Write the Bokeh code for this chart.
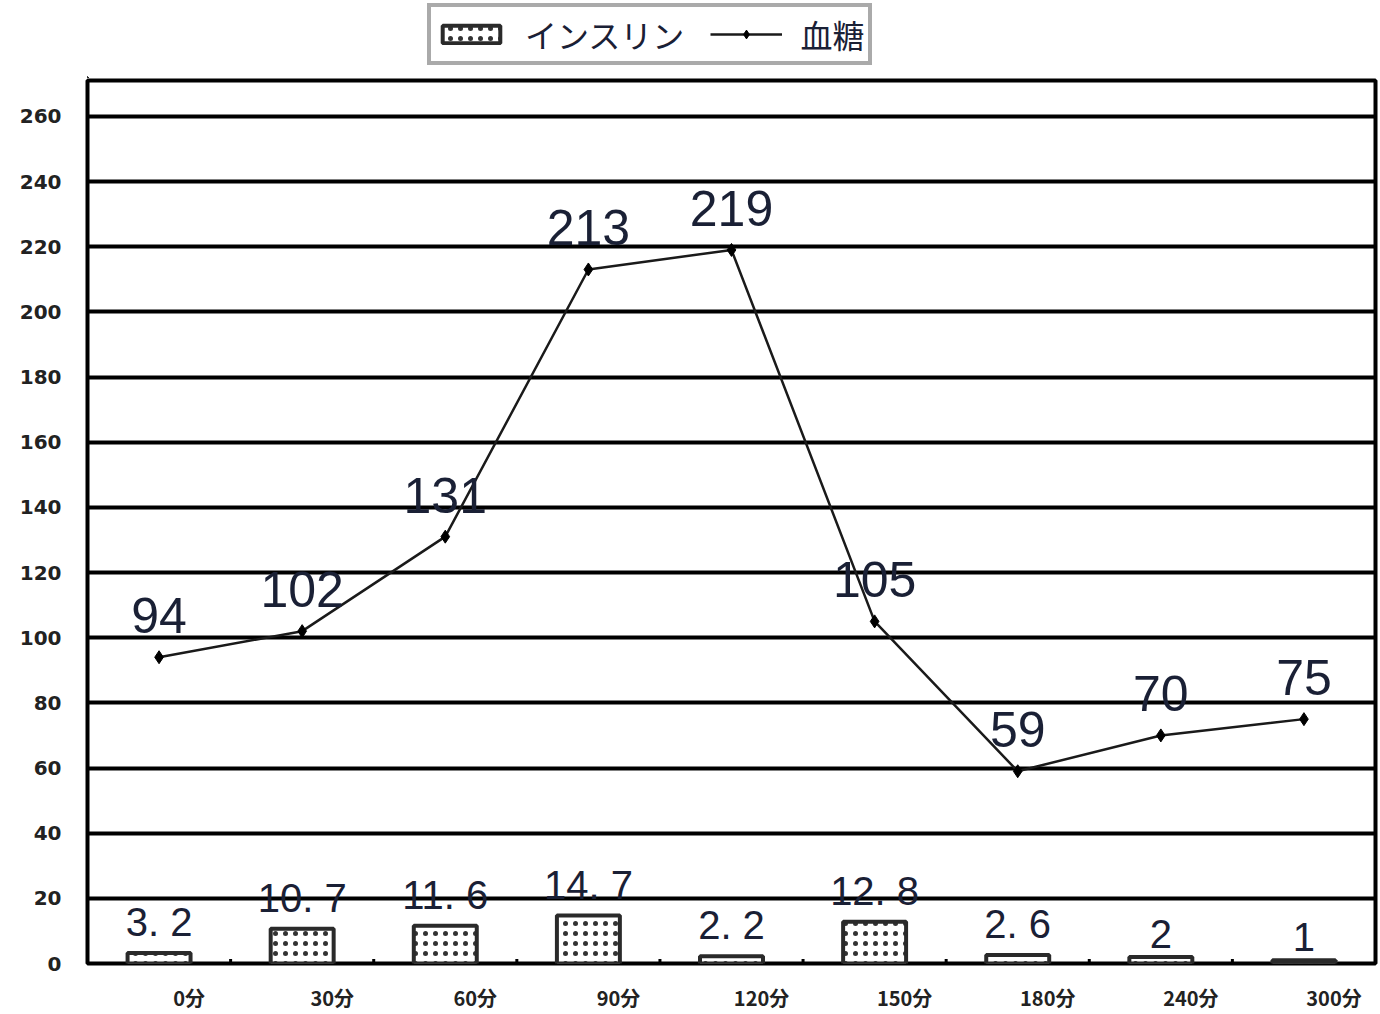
from bokeh.plotting import figure
from bokeh.layouts import column
from bokeh.models import (Range1d, FixedTicker, Legend, LegendItem, ColumnDataSource)
from bokeh.core.properties import value
from bokeh.embed import file_html
from bokeh.resources import INLINE

# --- data -------------------------------------------------------------
time_labels = ["0分", "30分", "60分", "90分", "120分", "150分", "180分", "240分", "300分"]
insulin = [3.2, 10.7, 11.6, 14.7, 2.2, 12.8, 2.6, 2, 1]
glucose = [94, 102, 131, 213, 219, 105, 59, 70, 75]
y_ticks = list(range(0, 261, 20))

n = len(time_labels)
xs = [i + 0.5 for i in range(n)]          # category centres on a numeric axis
bounds = list(range(1, n))                 # category boundaries
label_shift = 0.21                         # time labels sit right of the centre

LABEL_COLOR = "#1a2035"
JP_FONT = "Noto Sans CJK JP"
W = 1380
HEAD_H = 78

BAR_STYLE = dict(fill_color="white", line_color="#2a2a2a", line_width=4,
                 hatch_pattern="dot", hatch_color="#333333", hatch_scale=10,
                 hatch_weight=3.5)
LINE_STYLE = dict(line_color="#1a1a1a", line_width=2.5)
MARK_STYLE = dict(marker="diamond", size=13, fill_color="black", line_color="black")

src = ColumnDataSource(dict(
    x=xs,
    insulin=insulin,
    glucose=glucose,
    ins_text=[f"{v:g}".replace(".", ". ") for v in insulin],
    glu_text=[f"{v:g}" for v in glucose],
))

# --- main chart ---------------------------------------------------------
p = figure(width=W, height=1014 - HEAD_H, output_backend="svg", toolbar_location=None,
           x_range=Range1d(0, n), y_range=Range1d(0, 271))
p.min_border_left = 87
p.min_border_right = 5
p.min_border_top = 2
p.min_border_bottom = 51
p.background_fill_color = "white"
p.border_fill_color = "white"
p.outline_line_color = "black"
p.outline_line_width = 4

# horizontal grid
p.xgrid.grid_line_color = None
p.ygrid.ticker = FixedTicker(ticks=y_ticks[1:])
p.ygrid.grid_line_color = "black"
p.ygrid.grid_line_width = 4

# y axis: labels only
p.yaxis.ticker = FixedTicker(ticks=y_ticks)
p.yaxis.axis_line_color = None
p.yaxis.major_tick_line_color = None
p.yaxis.minor_tick_line_color = None
p.yaxis.major_tick_in = 0
p.yaxis.major_tick_out = 0
p.yaxis.major_label_standoff = 26
p.yaxis.major_label_text_font = "DejaVu Sans"
p.yaxis.major_label_text_font_style = "bold"
p.yaxis.major_label_text_font_size = "20px"
p.yaxis.major_label_text_color = "#222222"

# x axis: time labels
tick_pos = [x + label_shift for x in xs]
p.xaxis.ticker = FixedTicker(ticks=tick_pos)
p.xaxis.major_label_overrides = {t: lab for t, lab in zip(tick_pos, time_labels)}
p.xaxis.axis_line_color = None
p.xaxis.major_tick_line_color = None
p.xaxis.minor_tick_line_color = None
p.xaxis.major_tick_in = 0
p.xaxis.major_tick_out = 0
p.xaxis.major_label_standoff = 19
p.xaxis.major_label_text_font = JP_FONT
p.xaxis.major_label_text_font_style = "bold"
p.xaxis.major_label_text_font_size = "20px"
p.xaxis.major_label_text_color = "#222222"

# small inner tick marks between categories
p.segment(x0=bounds, y0=[0] * len(bounds), x1=bounds, y1=[1.4] * len(bounds),
          line_color="black", line_width=3)

# insulin bars with dotted fill
p.vbar(x="x", top="insulin", width=0.44, bottom=0, source=src, **BAR_STYLE)

# blood glucose line with diamond markers
p.line(x="x", y="glucose", source=src, **LINE_STYLE)
p.scatter(x="x", y="glucose", source=src, **MARK_STYLE)

# value labels
p.text(x="x", y="glucose", text="glu_text", source=src, text_align="center",
       text_baseline="bottom", y_offset=-24, text_font=value("Liberation Sans"),
       text_font_size="50px", text_color=LABEL_COLOR)
p.text(x="x", y="insulin", text="ins_text", source=src, text_align="center",
       text_baseline="bottom", y_offset=-9, text_font=value("Liberation Sans"),
       text_font_size="40px", text_color=LABEL_COLOR)

# --- legend strip above the chart ---------------------------------------
# The key renderers reuse the series data; the strip's ranges lie far away
# from every value, so only the legend itself shows in this strip.
head = figure(width=W, height=HEAD_H, output_backend="svg", toolbar_location=None,
              x_range=Range1d(1000, 1000 + n), y_range=Range1d(5000, 5000 + HEAD_H),
              min_border=0, x_axis_location=None, y_axis_location=None)
head.outline_line_color = None
head.xgrid.grid_line_color = None
head.ygrid.grid_line_color = None
key_bar = head.vbar(x="x", top="insulin", width=0.44, bottom=0, source=src, **BAR_STYLE)
key_line = head.line(x="x", y="glucose", source=src, **LINE_STYLE)
key_mark = head.scatter(x="x", y="glucose", source=src, **MARK_STYLE)

legend = Legend(items=[LegendItem(label="インスリン", renderers=[key_bar]),
                       LegendItem(label="血糖", renderers=[key_line, key_mark])],
                orientation="horizontal", location=(340, 13))
legend.label_text_font = JP_FONT
legend.label_text_font_size = "32px"
legend.label_text_color = LABEL_COLOR
legend.glyph_width = 72
legend.glyph_height = 22
legend.label_standoff = 18
legend.spacing = 26
legend.padding = 4
legend.margin = 0
legend.border_line_color = "#555555"
legend.border_line_width = 4
legend.background_fill_color = "white"
legend.background_fill_alpha = 1
head.add_layout(legend, "center")

layout = column(head, p, spacing=0)
open("out.html", "w").write(file_html(layout, INLINE))
